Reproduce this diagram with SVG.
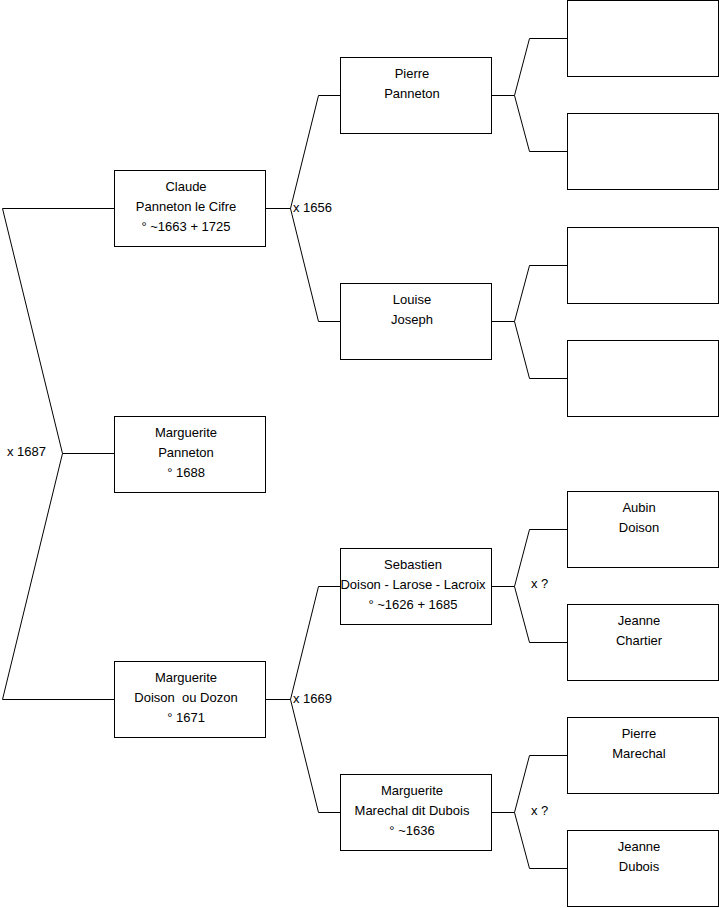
<svg xmlns="http://www.w3.org/2000/svg" width="719" height="908" viewBox="0 0 719 908">
<style>
.box{fill:#fff;stroke:#000;stroke-width:1}
.c{fill:none;stroke:#000;stroke-width:1}
text{font-family:"Liberation Sans",Arial,sans-serif;font-size:13px;fill:#000;white-space:pre}
.m{text-anchor:middle}
</style>
<rect width="719" height="908" fill="#fff"/>
<g id="connectors">
<path class="c" d="M114.5,208.5 H2.5 L62.5,453.5 L2.5,699.5 H114.5 M62.5,453.5 H114.5"/>
<path class="c" d="M265.5,208.5 H290.5 M340.5,95.5 H318.5 L290.5,208.5 L318.5,321.5 H340.5"/>
<path class="c" d="M265.5,699.5 H290.5 M340.5,586.5 H318.5 L290.5,699.5 L318.5,812.5 H340.5"/>
<path class="c" d="M491.5,95.5 H514.5 M567.5,38.5 H529.5 L514.5,95.5 L529.5,151.5 H567.5"/>
<path class="c" d="M491.5,321.5 H514.5 M567.5,265.5 H529.5 L514.5,321.5 L529.5,378.5 H567.5"/>
<path class="c" d="M491.5,586.5 H514.5 M567.5,529.5 H529.5 L514.5,586.5 L529.5,642.5 H567.5"/>
<path class="c" d="M491.5,812.5 H514.5 M567.5,755.5 H529.5 L514.5,812.5 L529.5,868.5 H567.5"/>
<text x="7" y="456">x 1687</text>
<text x="293" y="212">x 1656</text>
<text x="293" y="703">x 1669</text>
<text x="531" y="588">x ?</text>
<text x="531" y="815">x ?</text>
</g>
<g id="claude"><rect class="box" x="114.5" y="170.5" width="151" height="76"/>
<text class="m" x="186" y="191">Claude</text><text class="m" x="186" y="211">Panneton le Cifre</text><text class="m" x="186" y="231">° ~1663 + 1725</text></g>
<g id="marguerite-panneton"><rect class="box" x="114.5" y="416.5" width="151" height="76"/>
<text class="m" x="186" y="437">Marguerite</text><text class="m" x="186" y="457">Panneton</text><text class="m" x="186" y="477">° 1688</text></g>
<g id="marguerite-doison"><rect class="box" x="114.5" y="661.5" width="151" height="76"/>
<text class="m" x="186" y="682">Marguerite</text><text class="m" x="186" y="702">Doison  ou Dozon</text><text class="m" x="186" y="722">° 1671</text></g>
<g id="pierre-panneton"><rect class="box" x="340.5" y="57.5" width="151" height="76"/>
<text class="m" x="412" y="78">Pierre</text><text class="m" x="412" y="98">Panneton</text></g>
<g id="louise-joseph"><rect class="box" x="340.5" y="283.5" width="151" height="76"/>
<text class="m" x="412" y="304">Louise</text><text class="m" x="412" y="324">Joseph</text></g>
<g id="sebastien"><rect class="box" x="340.5" y="548.5" width="151" height="76"/>
<text class="m" x="413" y="569">Sebastien</text><text class="m" x="413" y="589">Doison - Larose - Lacroix</text><text class="m" x="413" y="609">° ~1626 + 1685</text></g>
<g id="marguerite-marechal"><rect class="box" x="340.5" y="774.5" width="151" height="76"/>
<text class="m" x="412" y="795">Marguerite</text><text class="m" x="412" y="815">Marechal dit Dubois</text><text class="m" x="412" y="835">° ~1636</text></g>
<g id="empty1"><rect class="box" x="567.5" y="0.5" width="151" height="76"/></g>
<g id="empty2"><rect class="box" x="567.5" y="113.5" width="151" height="76"/></g>
<g id="empty3"><rect class="box" x="567.5" y="227.5" width="151" height="76"/></g>
<g id="empty4"><rect class="box" x="567.5" y="340.5" width="151" height="76"/></g>
<g id="aubin-doison"><rect class="box" x="567.5" y="491.5" width="151" height="76"/>
<text class="m" x="639" y="512">Aubin</text><text class="m" x="639" y="532">Doison</text></g>
<g id="jeanne-chartier"><rect class="box" x="567.5" y="604.5" width="151" height="76"/>
<text class="m" x="639" y="625">Jeanne</text><text class="m" x="639" y="645">Chartier</text></g>
<g id="pierre-marechal"><rect class="box" x="567.5" y="717.5" width="151" height="76"/>
<text class="m" x="639" y="738">Pierre</text><text class="m" x="639" y="758">Marechal</text></g>
<g id="jeanne-dubois"><rect class="box" x="567.5" y="830.5" width="151" height="76"/>
<text class="m" x="639" y="851">Jeanne</text><text class="m" x="639" y="871">Dubois</text></g>
</svg>
